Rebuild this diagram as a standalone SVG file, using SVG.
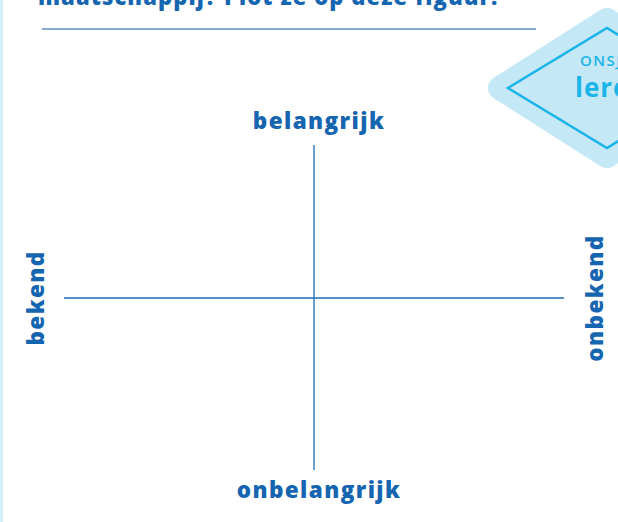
<svg xmlns="http://www.w3.org/2000/svg" width="618" height="522" viewBox="0 0 618 522">
<style>
.lbl{font-family:"Open Sans","Liberation Sans",sans-serif;font-weight:800;fill:#1565b0;font-size:22.5px;letter-spacing:1.4px}
.axis{stroke:#1a6bb8;stroke-width:1.3;fill:none}
</style>
<rect x="0" y="0" width="618" height="522" fill="#ffffff"/>
<rect x="0" y="0" width="3" height="522" fill="#d2eef9"/>
<text x="38" y="5" font-family="Open Sans, Liberation Sans, sans-serif" font-weight="800" font-size="22" letter-spacing="1.1" fill="#1565b0">maatschappij? Plot ze op deze figuur.</text>
<line x1="42" y1="29" x2="536" y2="29" stroke="#5b8fc4" stroke-width="1.5"/>
<g id="badge">
<polygon points="500,88 607,20 714,88 607,156" fill="#c5e8f6" stroke="#c5e8f6" stroke-width="24" stroke-linejoin="round"/>
<polygon points="508,88 607,28 706,88 607,148" fill="none" stroke="#1ab4e8" stroke-width="2.5"/>
<text x="580" y="66" font-family="Open Sans, Liberation Sans, sans-serif" font-weight="600" font-size="15" fill="#1ab4e8" letter-spacing="1.5">ONSJ</text>
<text x="575" y="97" font-family="Open Sans, Liberation Sans, sans-serif" font-weight="bold" font-size="26" fill="#1ab4e8" letter-spacing="1">lere</text>
</g>
<g id="connectors">
<line class="axis" x1="314" y1="145" x2="314" y2="470"/>
<line class="axis" x1="64" y1="298" x2="564" y2="298"/>
</g>
<g id="top"><text class="lbl" x="319" y="129" text-anchor="middle">belangrijk</text></g>
<g id="bottom"><text class="lbl" x="319" y="498" text-anchor="middle">onbelangrijk</text></g>
<g id="left"><text class="lbl" transform="translate(44,298) rotate(-90)" text-anchor="middle">bekend</text></g>
<g id="right"><text class="lbl" transform="translate(603,298) rotate(-90)" text-anchor="middle">onbekend</text></g>
</svg>
